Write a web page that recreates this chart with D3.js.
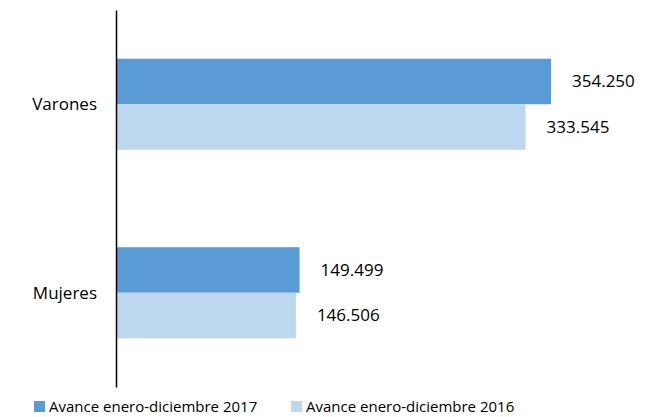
<!DOCTYPE html>
<html>
<head>
<meta charset="utf-8">
<script src="https://cdn.jsdelivr.net/npm/d3@7"></script>
<style>
  body { margin: 0; background: #fff; }
  text { font-family: "Open Sans", "Noto Sans", sans-serif; fill: #000; }
</style>
</head>
<body>
<div id="chart"></div>
<script>
var categories = ["Varones", "Mujeres"];
var seriesNames = ["Avance enero-diciembre 2017", "Avance enero-diciembre 2016"];
var values2017 = [354250, 149499];
var values2016 = [333545, 146506];
var colors = ["#5B9BD5", "#BDD7EE"];

var svgWidth = 655;
var svgHeight = 417;

var margin = { top: 10, bottom: 30, left: 116, right: 50 };
var chartHeight = svgHeight - margin.top - margin.bottom;

var svg = d3.select("#chart")
    .append("svg")
    .attr("width", svgWidth)
    .attr("height", svgHeight);

var chartGroup = svg.append("g")
    .attr("transform", `translate(${margin.left},${margin.top})`);

// one row per category, two bars inside
var rows = categories.map(function(c, i) {
    return { cat: c, vals: [values2017[i], values2016[i]] };
});

var yScale = d3.scaleBand()
    .domain(categories)
    .range([0, chartHeight]);

var yInner = d3.scaleBand()
    .domain([0, 1])
    .range([0, yScale.bandwidth()])
    .paddingInner(0)
    .paddingOuter(1.07);

var xScale = d3.scaleLinear()
    .domain([0, 354250])
    .range([0, 435]);

var rowGroups = chartGroup.selectAll(".row")
    .data(rows)
    .enter()
    .append("g")
    .attr("transform", d => `translate(0,${yScale(d.cat)})`);

rowGroups.selectAll("rect")
    .data(d => d.vals)
    .enter()
    .append("rect")
    .attr("x", 0)
    .attr("y", (d, i) => yInner(i))
    .attr("width", d => xScale(d))
    .attr("height", yInner.bandwidth())
    .attr("fill", (d, i) => colors[i]);

// value labels
var fmt = d3.format(",");
rowGroups.selectAll(".val")
    .data(d => d.vals)
    .enter()
    .append("text")
    .attr("x", d => xScale(d) + 21)
    .attr("y", (d, i) => yInner(i) + yInner.bandwidth() / 2)
    .attr("dy", "0.35em")
    .style("font-size", "17px")
    .text(d => fmt(d).replace(/,/g, "."));

// category labels
chartGroup.selectAll(".cat")
    .data(categories)
    .enter()
    .append("text")
    .attr("x", -19)
    .attr("y", d => yScale(d) + yScale.bandwidth() / 2)
    .attr("dy", "0.35em")
    .attr("text-anchor", "end")
    .style("font-size", "17px")
    .text(d => d);

// vertical axis line
var yAxis = d3.axisLeft(yScale).tickSize(0).tickFormat("");
chartGroup.append("g")
    .call(yAxis)
    .select(".domain")
    .attr("stroke", "#000")
    .attr("stroke-width", 1.5);

// legend
var legendX = [34, 291];
var legend = svg.selectAll(".legend")
    .data(seriesNames)
    .enter()
    .append("g")
    .attr("transform", (d, i) => `translate(${legendX[i]},401)`);

legend.append("rect")
    .attr("width", 11)
    .attr("height", 11)
    .attr("fill", (d, i) => colors[i]);

legend.append("text")
    .attr("x", 15)
    .attr("y", 11)
    .style("font-size", "15px")
    .text(d => d);
</script>
</body>
</html>
